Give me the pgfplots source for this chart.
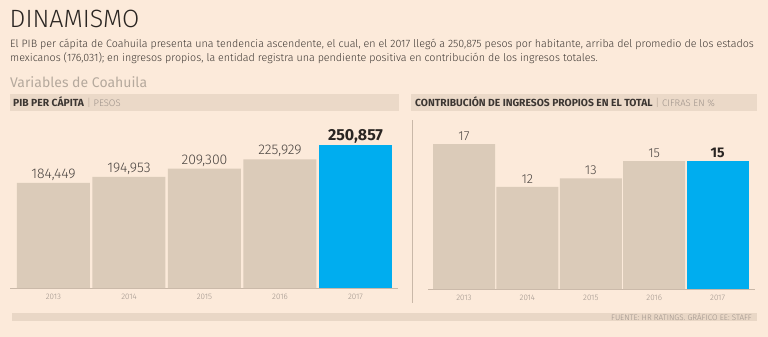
\documentclass[border=0pt]{standalone}
\usepackage{pgfplots}
\pgfplotsset{compat=1.18}
\usepackage{fontspec}
\setmainfont{Fira Sans}
\newfontfamily\lightf{Fira Sans}[UprightFont=* Light]
\definecolor{bg}{HTML}{FCEADA}
\definecolor{hdr}{HTML}{EBD9C8}
\definecolor{tan}{HTML}{DBCBB9}
\definecolor{blu}{HTML}{00ADEF}
\definecolor{titc}{HTML}{2A2522}
\definecolor{bodyc}{HTML}{3C3632}
\definecolor{varc}{HTML}{B5A99D}
\definecolor{yearc}{HTML}{9C9189}
\definecolor{linec}{HTML}{C9B8A8}
\definecolor{botc}{HTML}{E9D7C6}
\definecolor{valc}{HTML}{4A4440}
\begin{document}
\begin{tikzpicture}
\begin{scope}[x=1pt,y=-1pt]
\fill[bg] (0,0) rectangle (768,337);
\node[anchor=base west, inner sep=0, text=titc, font=\lightf\fontsize{25}{27}\selectfont] at (9.5,28) {DINAMISMO};
\node[anchor=base west, inner sep=0, text=bodyc, font=\lightf\fontsize{10.7}{12}\selectfont] at (10,47.5) {El PIB per cápita de Coahuila presenta una tendencia ascendente, el cual, en el 2017 llegó a 250,875 pesos por habitante, arriba del promedio de los estados};
\node[anchor=base west, inner sep=0, text=bodyc, font=\lightf\fontsize{10.7}{12}\selectfont] at (10,61.5) {mexicanos (176,031); en ingresos propios, la entidad registra una pendiente positiva en contribución de los ingresos totales.};
\node[anchor=base west, inner sep=0, text=varc, font=\fontsize{14}{15}\selectfont] at (10,87) {Variables de Coahuila};
\fill[hdr] (10,94) rectangle (399,111);
\fill[hdr] (411,94) rectangle (757,111);
\node[anchor=base west, inner sep=0, text=bodyc, font=\fontsize{10.3}{11}\selectfont] at (13,106.5) {\textbf{PIB PER CÁPITA} {\color{linec}|} {\lightf\color{yearc}\fontsize{9.5}{10}\selectfont PESOS}};
\node[anchor=base west, inner sep=0, text=bodyc, font=\fontsize{10.3}{11}\selectfont] at (415,106.5) {\textbf{CONTRIBUCIÓN DE INGRESOS PROPIOS EN EL TOTAL} {\color{linec}|} {\lightf\color{yearc}\fontsize{9.5}{10}\selectfont CIFRAS EN \%}};
\draw[linec, line width=0.6pt] (412,120) -- (412,303);
\fill[botc] (12,313) rectangle (757,321);
\node[anchor=east, inner sep=0, text=yearc, font=\lightf\fontsize{8}{8}\selectfont] at (752,317) {FUENTE: HR RATINGS. GRÁFICO EE: STAFF};
\end{scope}
\begin{axis}[
  at={(10pt,-288pt)}, anchor=south west,
  width=388pt, height=168pt, scale only axis,
  xmin=-0.576, xmax=4.563, ymin=0, ymax=294840,
  axis x line*=bottom, axis y line=none, ytick=\empty,
  ybar, bar width=73pt,
  xtick={0,1,2,3,4}, xticklabels={2013,2014,2015,2016,2017},
  major tick length=0pt,
  xticklabel style={font=\lightf\fontsize{8}{9}\selectfont, text=yearc, yshift=-2.5pt},
  x axis line style={draw=linec, line width=0.6pt, -},
  /pgf/number format/.cd, 1000 sep={,}, fixed, assume math mode=true, /pgfplots/.cd,
  clip=false,
]
\addplot[fill=tan, draw=none, bar shift=0pt,
  nodes near coords, nodes near coords style={font=\lightf\fontsize{14}{15}\selectfont, text=valc, inner sep=2pt}]
  coordinates {(0,184449) (1,194953) (2,209300) (3,225929)};
\addplot[fill=blu, draw=none, bar shift=0pt,
  nodes near coords, nodes near coords style={font=\bfseries\fontsize{16}{17}\selectfont, text=titc, inner sep=2pt}]
  coordinates {(4,250857)};
\end{axis}
\begin{axis}[
  at={(428pt,-289pt)}, anchor=south west,
  width=327pt, height=168pt, scale only axis,
  xmin=-0.568, xmax=4.59, ymin=0, ymax=19.72,
  axis x line*=bottom, axis y line=none, ytick=\empty,
  ybar, bar width=62pt,
  xtick={0,1,2,3,4}, xticklabels={2013,2014,2015,2016,2017},
  major tick length=0pt,
  xticklabel style={font=\lightf\fontsize{8}{9}\selectfont, text=yearc, yshift=-2.5pt},
  x axis line style={draw=linec, line width=0.6pt, -},
  /pgf/number format/.cd, assume math mode=true, /pgfplots/.cd,
  clip=false,
]
\addplot[fill=tan, draw=none, bar shift=0pt,
  nodes near coords, nodes near coords style={font=\lightf\fontsize{13}{14}\selectfont, text=valc, inner sep=3pt}]
  coordinates {(0,17) (1,12) (2,13) (3,15)};
\addplot[fill=blu, draw=none, bar shift=0pt,
  nodes near coords, nodes near coords style={font=\bfseries\fontsize{14}{15}\selectfont, text=titc, inner sep=3pt}]
  coordinates {(4,15)};
\end{axis}
\end{tikzpicture}
\end{document}
